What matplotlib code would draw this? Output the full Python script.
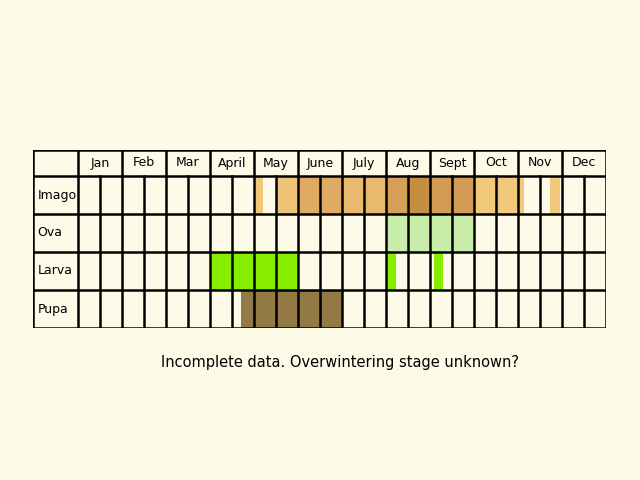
import matplotlib.pyplot as plt
from matplotlib.patches import Rectangle

months = ["Jan", "Feb", "Mar", "April", "May", "June", "July", "Aug", "Sept", "Oct", "Nov", "Dec"]
stages = ["Imago", "Ova", "Larva", "Pupa"]

# bars: stage index, start, end (in half-month units), colour
bar_stage = [0, 0, 0, 0, 0, 0, 0, 0, 0, 1, 2, 2, 2, 3]
bar_start = [8.0, 9.0, 10.0, 12.0, 14.0, 15.0, 16.0, 18.0, 21.45, 14.0, 6.0, 14.0, 16.2, 7.4]
bar_end = [8.4, 10.0, 12.0, 14.0, 15.0, 16.0, 18.0, 20.27, 21.9, 18.0, 10.0, 14.45, 16.6, 12.0]
bar_color = ["#f2c97a", "#efc377", "#dfab64", "#e9ba6e", "#d8a056", "#c58e40", "#d49b56",
             "#f2c87a", "#f2c87a", "#c8eeaa", "#88ee00", "#88ee00", "#88ee00", "#937a45"]

bg = "#fdfbe8"
fig = plt.figure(figsize=(6.4, 4.8), dpi=100, facecolor=bg)
ax = fig.add_axes([33/640, (480-328)/480, 573/640, 178/480])
ax.set_facecolor(bg)
head = 26/38
ax.set_xlim(-45/22, 24)
ax.set_ylim(4, -head)
ax.axis("off")

for s, a, b, c in zip(bar_stage, bar_start, bar_end, bar_color):
    ax.add_patch(Rectangle((a, s), b - a, 1, color=c, lw=0, zorder=1))

lw = 1.8
# horizontal lines
for y in [-head, 0, 1, 2, 3, 4]:
    ax.plot([-45/22, 24], [y, y], color="black", lw=lw, zorder=3, solid_capstyle="projecting")
# vertical lines
ax.plot([-45/22, -45/22], [-head, 4], color="black", lw=lw, zorder=3)
for u in range(25):
    y0 = -head if u % 2 == 0 else 0
    ax.plot([u, u], [y0, 4], color="black", lw=lw, zorder=3)

for i, m in enumerate(months):
    ax.text(2*i + 1, -head/2, m, ha="center", va="center", fontsize=9, zorder=4)
for i, s in enumerate(stages):
    ax.text(-45/22 + 0.2, i + 0.5, s, ha="left", va="center", fontsize=9, zorder=4)

fig.text(340/640, 1 - 362/480, "Incomplete data. Overwintering stage unknown?",
         ha="center", va="center", fontsize=10.5)

fig.savefig("out.png", dpi=100, facecolor=bg)
